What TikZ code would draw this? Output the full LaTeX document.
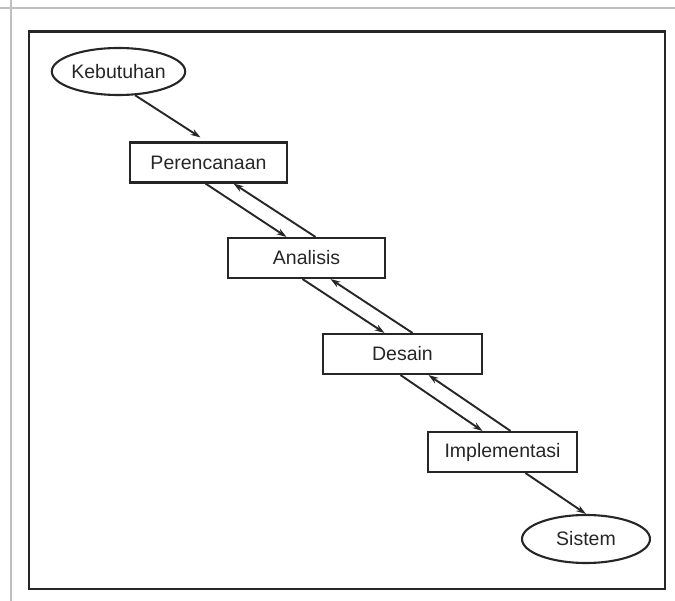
\documentclass[tikz,border=0pt]{standalone}
\usepackage{fontspec}
\setmainfont{Liberation Sans}
\usetikzlibrary{shapes.geometric,arrows.meta}
\begin{document}
\begin{tikzpicture}[x=1pt,y=-1pt,
  every node/.style={font=\fontsize{19.5}{22}\selectfont, text=black!85},
  stage/.style={draw=black!85, line width=2.1pt, rectangle, minimum height=40pt, inner sep=0pt},
  term/.style={draw=black!85, line width=2.1pt, ellipse, inner sep=0pt},
  flow/.style={draw=black!85, line width=1.9pt, -{Stealth[length=10pt,width=6.5pt]}}]
  \useasboundingbox (0,0) rectangle (675,601);
  % paper edge lines
  \draw[black!25, line width=1.3pt] (0,8) -- (675,8);
  \draw[black!25, line width=1.3pt] (11,0) -- (11,601);
  % frame
  \draw[black!85, line width=2.8pt] (29,31.5) rectangle (665,589);
  % nodes
  \node[term, minimum width=127pt, minimum height=47pt] (keb) at (118.5,71.5) {Kebutuhan};
  \node[stage, minimum width=157pt] (per) at (208.5,162.5) {Perencanaan};
  \node[stage, minimum width=157pt] (ana) at (306.5,258) {Analisis};
  \node[stage, minimum width=159pt] (des) at (402.5,354) {Desain};
  \node[stage, minimum width=149pt] (imp) at (502.5,452) {Implementasi};
  \node[term, minimum width=128pt, minimum height=48pt] (sis) at (586,539) {Sistem};
  % forward and feedback connectors
  \draw[flow] (keb.-55) -- ([xshift=-8pt,yshift=4pt]per.north);
  \draw[flow] ([xshift=-3pt]per.south) -- ([xshift=-20pt]ana.north);
  \draw[flow] ([xshift=9pt]ana.north) -- ([xshift=25pt]per.south);
  \draw[flow] ([xshift=-4pt]ana.south) -- ([xshift=-18pt]des.north);
  \draw[flow] ([xshift=10pt]des.north) -- ([xshift=24pt]ana.south);
  \draw[flow] ([xshift=-2pt]des.south) -- ([xshift=-20pt]imp.north);
  \draw[flow] ([xshift=8pt]imp.north) -- ([xshift=26pt]des.south);
  \draw[flow] ([xshift=23pt]imp.south) -- (sis.north);
\end{tikzpicture}
\end{document}
